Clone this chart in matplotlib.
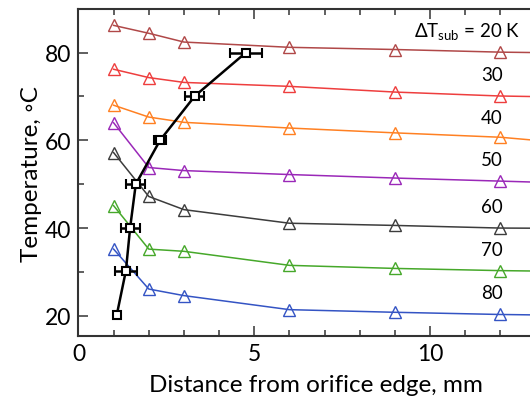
import matplotlib
matplotlib.use("Agg")
import matplotlib.pyplot as plt
from matplotlib.ticker import MultipleLocator

plt.rcParams['font.family'] = ['Lato', 'DejaVu Sans']
plt.rcParams['mathtext.fontset'] = 'custom'
plt.rcParams['mathtext.rm'] = 'Lato'

# distance from orifice edge, mm (last point lies past the cropped edge)
dist = [1, 2, 3, 6, 9, 12, 15]

subcool = [20, 30, 40, 50, 60, 70, 80]
temp_20 = [86.2, 84.4, 82.4, 81.2, 80.7, 80.1, 79.8]
temp_30 = [76.2, 74.3, 73.2, 72.3, 71.0, 70.1, 69.7]
temp_40 = [68.0, 65.3, 64.1, 62.8, 61.7, 60.7, 58.6]
temp_50 = [64.0, 53.8, 53.1, 52.2, 51.4, 50.7, 50.0]
temp_60 = [57.2, 47.2, 44.2, 41.1, 40.6, 40.0, 39.9]
temp_70 = [45.1, 35.2, 34.7, 31.5, 30.8, 30.3, 30.0]
temp_80 = [35.2, 26.1, 24.6, 21.4, 20.8, 20.3, 20.0]
series = [temp_20, temp_30, temp_40, temp_50, temp_60, temp_70, temp_80]
colors = ['#b04848', '#ee3e3e', '#ff8022', '#9a28b8', '#3c3c3c', '#46a82a', '#3454c4']

# black curve with horizontal error bars
curve_x = [1.09, 1.35, 1.47, 1.63, 2.32, 3.31, 4.76]
curve_t = [20.2, 30.3, 40.1, 50.0, 60.0, 70.1, 80.0]
curve_err = [0.0, 0.31, 0.27, 0.27, 0.18, 0.27, 0.45]

fig = plt.figure(figsize=(5.30, 4.06), dpi=100)
ax = fig.add_axes([0.148, 0.170, 0.852, 0.805])

for t, c in zip(series, colors):
    ax.plot(dist, t, '-^', color=c, lw=1.1, ms=8.5, mfc='none', mec=c, mew=1.0)

ax.errorbar(curve_x, curve_t, xerr=curve_err, fmt='s-', color='black',
            mfc='white', mec='black', ms=5.5, mew=1.5, lw=1.8,
            elinewidth=1.8, capsize=3.8, capthick=1.8, zorder=5)

ax.text(9.55, 84.9, r"ΔT$_{\mathrm{sub}}$ = 20 K", fontsize=13.5, va='center', ha='left')
for s, ty in zip(subcool[1:], [75.1, 65.3, 55.7, 45.0, 35.2, 25.4]):
    ax.text(11.75, ty, str(s), fontsize=13.5, va='center', ha='center')

ax.set_xlim(0, 12.84)
ax.set_ylim(15.4, 89.9)
ax.xaxis.set_major_locator(MultipleLocator(5))
ax.xaxis.set_minor_locator(MultipleLocator(1))
ax.yaxis.set_major_locator(MultipleLocator(20))
ax.yaxis.set_minor_locator(MultipleLocator(10))
ax.tick_params(which='both', direction='in', top=True, right=False,
               labelsize=16.5, color='#444444', width=1.2)
ax.tick_params(which='major', length=7, pad=5)
ax.tick_params(which='minor', length=4)
ax.spines['right'].set_visible(False)
for sp in ['left', 'bottom', 'top']:
    ax.spines[sp].set_linewidth(1.5)
    ax.spines[sp].set_color('#333333')

ax.set_xlabel("Distance from orifice edge, mm", fontsize=17.5)
ax.xaxis.set_label_coords(0.525, -0.115)
ax.set_ylabel("Temperature, ◦C", fontsize=17.5, labelpad=2)

fig.savefig("out.png", dpi=100)
